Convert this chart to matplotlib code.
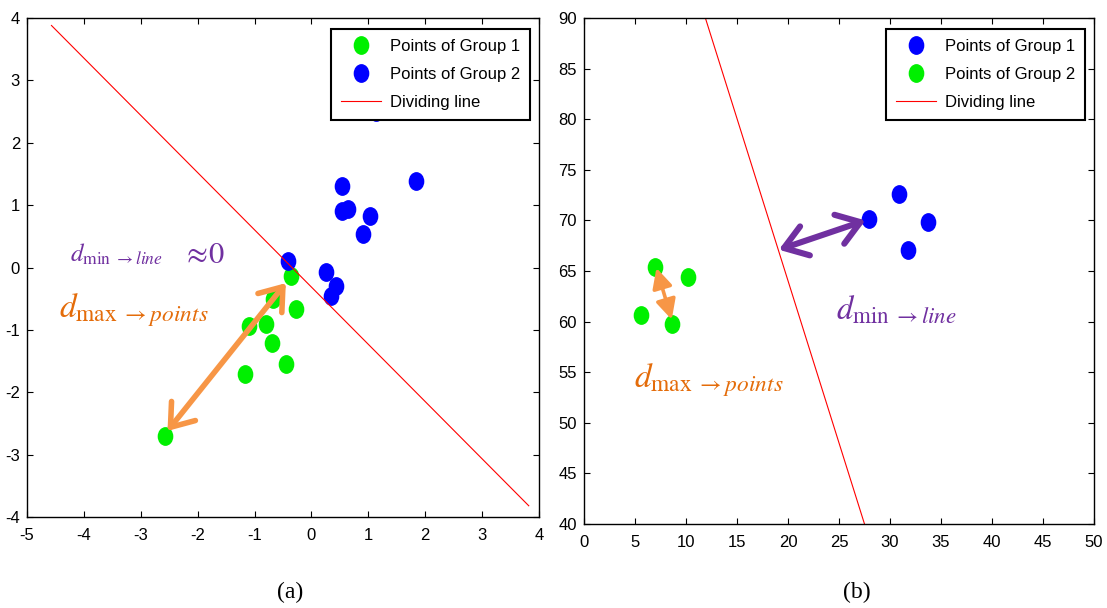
import matplotlib
matplotlib.use("Agg")
import matplotlib.pyplot as plt
import matplotlib.transforms as mtransforms
from matplotlib.path import Path

plt.rcParams['font.family'] = ['Liberation Sans', 'DejaVu Sans']
plt.rcParams['mathtext.fontset'] = 'stix'
plt.rcParams['axes.unicode_minus'] = False

# ---- data, panel (a) ----
a_g1_x = [-0.36, -0.68, -0.27, -1.09, -0.80, -0.69, -0.44, -1.17, -2.58]
a_g1_y = [-0.14, -0.51, -0.66, -0.94, -0.91, -1.21, -1.55, -1.71, -2.70]
a_g2_x = [-0.42, 0.26, 0.44, 0.34, 0.53, 0.54, 0.65, 1.03, 0.91, 1.84, 1.13]
a_g2_y = [0.10, -0.07, -0.29, -0.46, 1.30, 0.90, 0.94, 0.83, 0.54, 1.39, 2.50]
a_line_x = [-4.57, 3.82]
a_line_y = [3.88, -3.82]
a_arrow = [(-0.45, -0.25), (-2.53, -2.62)]

# ---- data, panel (b) ----
b_g1_x = [27.9, 30.9, 33.7, 31.8]
b_g1_y = [70.1, 72.6, 69.8, 67.1]
b_g2_x = [7.0, 10.2, 5.6, 8.6]
b_g2_y = [65.4, 64.4, 60.7, 59.8]
b_line_x = [11.9, 27.5]
b_line_y = [90.0, 40.0]
b_arrow_min = [(19.1, 67.1), (27.6, 70.0)]
b_arrow_max = [(7.1, 65.3), (8.6, 60.2)]

GREEN = '#00F000'
BLUE = '#0000FF'
PURPLE = '#7030A0'
ORANGE_TXT = '#E46C0A'
ORANGE_ARR = '#F79646'

# slightly tall ellipse marker like the original
ell = mtransforms.Affine2D().scale(0.82, 1.0).transform_path(Path.unit_circle())
MS = 12.5

fig = plt.figure(figsize=(11.07, 6.08), dpi=100)
ax1 = fig.add_axes([27 / 1107, 1 - 517 / 608, 512 / 1107, 499 / 608])
ax2 = fig.add_axes([584 / 1107, 1 - 524 / 608, 510 / 1107, 506 / 608])


def style_axes(ax):
    ax.tick_params(direction='in', length=4, width=0.8, top=True, right=True,
                   labelsize=12)
    ax.tick_params(axis='x', pad=8)
    ax.tick_params(axis='y', pad=5)
    for s in ax.spines.values():
        s.set_linewidth(1.0)


def add_legend(ax, handles, labels):
    leg = ax.legend(handles, labels, loc='upper right', bbox_to_anchor=(0.982, 0.978),
                    borderaxespad=0, fancybox=False, framealpha=1, edgecolor='black',
                    fontsize=12, handlelength=2.4, handletextpad=0.5,
                    labelspacing=0.78, borderpad=0.6)
    leg.get_frame().set_linewidth(1.5)
    leg.set_zorder(10)


# ---- panel (a) ----
h1, = ax1.plot(a_g1_x, a_g1_y, linestyle='none', marker=ell, ms=MS, color=GREEN)
h2, = ax1.plot(a_g2_x, a_g2_y, linestyle='none', marker=ell, ms=MS, color=BLUE)
h3, = ax1.plot(a_line_x, a_line_y, color='red', lw=0.8)
ax1.annotate('', xy=a_arrow[1], xytext=a_arrow[0],
             arrowprops=dict(arrowstyle='<->,head_length=0.75,head_width=0.55',
                             color=ORANGE_ARR, lw=4.0, mutation_scale=20,
                             shrinkA=0, shrinkB=0))
ax1.text(-4.24, 0.09, r'$d_{\mathrm{min}\ \rightarrow line}$', color=PURPLE,
         fontsize=18, va='baseline')
ax1.text(-2.28, 0.07, r'$\approx\!0$', color=PURPLE, fontsize=22, va='baseline')
ax1.text(-4.43, -0.80, r'$d_{\mathrm{max}\ \rightarrow points}$', color=ORANGE_TXT,
         fontsize=24, va='baseline')
ax1.set_xlim(-5, 4)
ax1.set_ylim(-4, 4)
ax1.set_xticks(range(-5, 5))
ax1.set_yticks(range(-4, 5))
style_axes(ax1)
add_legend(ax1, [h1, h2, h3], ['Points of Group 1', 'Points of Group 2', 'Dividing line'])

# ---- panel (b) ----
k1, = ax2.plot(b_g1_x, b_g1_y, linestyle='none', marker=ell, ms=MS, color=BLUE)
k2, = ax2.plot(b_g2_x, b_g2_y, linestyle='none', marker=ell, ms=MS, color=GREEN)
k3, = ax2.plot(b_line_x, b_line_y, color='red', lw=0.8)
ax2.annotate('', xy=b_arrow_min[1], xytext=b_arrow_min[0],
             arrowprops=dict(arrowstyle='<->,head_length=0.8,head_width=0.55',
                             color=PURPLE, lw=4.4, mutation_scale=20,
                             shrinkA=0, shrinkB=0))
ax2.annotate('', xy=b_arrow_max[1], xytext=b_arrow_max[0],
             arrowprops=dict(arrowstyle='<|-|>,head_length=0.6,head_width=0.3',
                             color=ORANGE_ARR, lw=2.6, mutation_scale=20,
                             shrinkA=0, shrinkB=0))
ax2.text(24.7, 60.2, r'$d_{\mathrm{min}\ \rightarrow line}$', color=PURPLE,
         fontsize=23.5, va='baseline')
ax2.text(4.9, 53.5, r'$d_{\mathrm{max}\ \rightarrow points}$', color=ORANGE_TXT,
         fontsize=24, va='baseline')
ax2.set_xlim(0, 50)
ax2.set_ylim(40, 90)
ax2.set_xticks(range(0, 51, 5))
ax2.set_yticks(range(40, 91, 5))
style_axes(ax2)
add_legend(ax2, [k1, k2, k3], ['Points of Group 1', 'Points of Group 2', 'Dividing line'])

fig.text(290 / 1107, 1 - 592 / 608, '(a)', fontsize=17, family='Liberation Serif',
         ha='center', va='center')
fig.text(857 / 1107, 1 - 592 / 608, '(b)', fontsize=17, family='Liberation Serif',
         ha='center', va='center')

fig.savefig('out.png', dpi=100)
